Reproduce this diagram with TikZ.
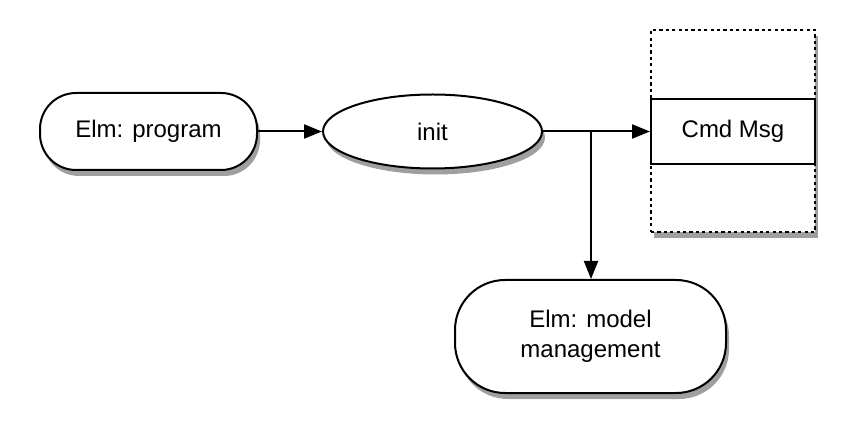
\documentclass[tikz,border=0pt]{standalone}
\usepackage{fontspec}
\setmainfont{Liberation Sans}
\usetikzlibrary{arrows.meta,calc,positioning,shadows,shapes.geometric}

\begin{document}
\begin{tikzpicture}[x=0.5pt,y=-0.5pt,
    font=\fontsize{12}{15}\selectfont,
    shadowed/.style={drop shadow={shadow xshift=1.5pt,shadow yshift=-3pt,opacity=0.5,fill=black!75}},
    pill/.style={draw,line width=1pt,fill=white,rounded corners=18pt,align=center,shadowed},
    arr/.style={line width=1pt,-{Triangle[length=9pt,width=7pt]}}]
  \useasboundingbox (0,0) rectangle (854,442);
  \node[draw,line width=1pt,dash pattern=on 1.6pt off 1.6pt,fill=white,shadowed,
        minimum width=82pt,minimum height=101pt,inner sep=0pt] (frame) at (733,131) {};
  \node[draw,line width=1pt,fill=white,minimum width=82pt,minimum height=32.5pt,inner sep=0pt] (cmd) at (733,131.5) {Cmd Msg};
  \node[pill,minimum width=108.5pt,minimum height=38.5pt] (program) at (148.5,131.5) {Elm: program};
  \node[draw,ellipse,line width=1pt,fill=white,shadowed,minimum width=109.5pt,minimum height=37pt,inner sep=0pt] (init) at (432.5,131.5) {init};
  \node[pill,rounded corners=25pt,minimum width=135.5pt,minimum height=56.5pt] (model) at (590.5,336.5) {Elm: model\\management};
  \coordinate (split) at (591,131.5);
  \draw[arr] (program) -- (init);
  \draw[arr] (init) -- (cmd);
  \draw[arr] (split) -- (split |- model.north);
\end{tikzpicture}
\end{document}
